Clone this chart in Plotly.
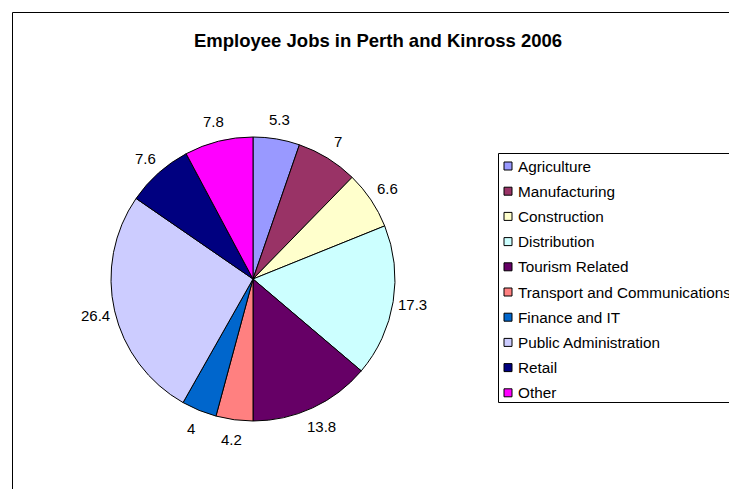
import math
import plotly.graph_objects as go

categories = ["Agriculture", "Manufacturing", "Construction", "Distribution",
              "Tourism Related", "Transport and Communications", "Finance and IT",
              "Public Administration", "Retail", "Other"]
values = [5.3, 7, 6.6, 17.3, 13.8, 4.2, 4, 26.4, 7.6, 7.8]
value_labels = ["5.3", "7", "6.6", "17.3", "13.8", "4.2", "4", "26.4", "7.6", "7.8"]
colors = ["#9999FF", "#993366", "#FFFFCC", "#CCFFFF", "#660066",
          "#FF8080", "#0066CC", "#CCCCFF", "#000080", "#FF00FF"]
title = "Employee Jobs in Perth and Kinross 2006"

W, H = 729, 489
FONT = "Liberation Sans, Arial, sans-serif"

# pie placement (pixels)
PIE_CX, PIE_CY, PIE_R = 253, 279, 142
LABEL_R = 162


def px(x):
    return x / W


def py(y):
    return 1 - y / H


fig = go.Figure()
fig.add_trace(go.Pie(
    labels=categories,
    values=values,
    textinfo="none",
    marker=dict(colors=colors, line=dict(color="#000000", width=1)),
    sort=False,
    direction="clockwise",
    rotation=0,
    showlegend=False,
    hoverinfo="label+value",
    domain=dict(x=[px(PIE_CX - PIE_R), px(PIE_CX + PIE_R)],
                y=[py(PIE_CY + PIE_R), py(PIE_CY - PIE_R)]),
))

shapes = []
annotations = []

# data labels placed outside the pie at each slice's mid-angle
total = sum(values)
cum = 0.0
for v, lab in zip(values, value_labels):
    mid = (cum + v / 2) / total * 2 * math.pi
    cum += v
    lx = PIE_CX + LABEL_R * math.sin(mid)
    ly = PIE_CY - LABEL_R * math.cos(mid)
    annotations.append(dict(text=lab, xref="paper", yref="paper",
                            x=px(lx), y=py(ly), xanchor="center", yanchor="middle",
                            showarrow=False,
                            font=dict(family=FONT, size=15, color="#000000")))

# chart frame (extends past the page edges)
shapes.append(dict(type="rect", xref="paper", yref="paper",
                   x0=px(12.5), y0=py(12.5), x1=px(745), y1=py(505),
                   line=dict(color="#000000", width=1), fillcolor="rgba(0,0,0,0)"))

# title
annotations.append(dict(text="<b>" + title + "</b>", xref="paper", yref="paper",
                        x=px(378), y=py(40), xanchor="center", yanchor="middle",
                        showarrow=False, font=dict(family=FONT, size=18.5, color="#000000")))

# legend box
shapes.append(dict(type="rect", xref="paper", yref="paper",
                   x0=px(498.5), y0=py(153.5), x1=px(745), y1=py(402.5),
                   line=dict(color="#000000", width=1), fillcolor="#FFFFFF"))

for i, (name, col) in enumerate(zip(categories, colors)):
    yc = 166 + 25.2 * i
    shapes.append(dict(type="rect", xref="paper", yref="paper",
                       x0=px(504), y0=py(yc - 4), x1=px(512), y1=py(yc + 4),
                       line=dict(color="#000000", width=1), fillcolor=col))
    annotations.append(dict(text=name, xref="paper", yref="paper",
                            x=px(516), y=py(yc), xanchor="left", yanchor="middle",
                            showarrow=False,
                            font=dict(family=FONT, size=15.3, color="#000000")))

fig.update_layout(
    width=W, height=H,
    margin=dict(l=0, r=0, t=0, b=0),
    paper_bgcolor="#FFFFFF",
    plot_bgcolor="#FFFFFF",
    shapes=shapes,
    annotations=annotations,
)

fig.write_html("out.html", config={"displayModeBar": False},
               post_script="document.body.style.margin='0';")
